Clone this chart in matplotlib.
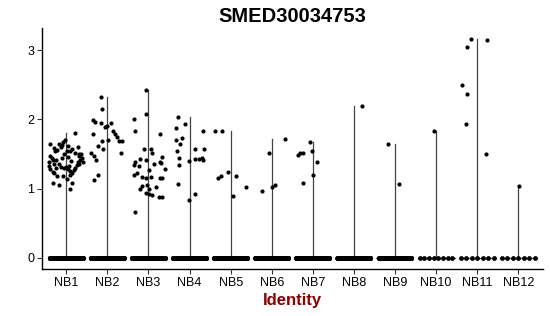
import matplotlib
matplotlib.use("Agg")
import matplotlib.pyplot as plt
import numpy as np

plt.rcParams["font.family"] = ["Liberation Sans", "DejaVu Sans"]

# cluster names
groups = ["NB1", "NB2", "NB3", "NB4", "NB5", "NB6",
          "NB7", "NB8", "NB9", "NB10", "NB11", "NB12"]

# cells with zero expression in each cluster (rough guess from band density)
zero_counts = [400, 300, 350, 400, 350, 250, 300, 300, 200, 8, 7, 7]

# non-zero cells: (expression, jitter offset)
nb1 = [(1.65, -0.39), (1.59, -0.31), (1.56, -0.23), (1.65, -0.17), (1.68, -0.08),
       (1.63, -0.10), (1.54, 0.02), (1.54, 0.10), (1.58, 0.14), (1.80, 0.22),
       (1.50, 0.32), (1.47, 0.30), (1.47, -0.40), (1.39, -0.41), (1.33, -0.42),
       (1.45, -0.35), (1.42, -0.33), (1.35, -0.30), (1.24, -0.33), (1.22, -0.30),
       (1.19, -0.22), (1.30, -0.24), (1.36, -0.18), (1.32, -0.12), (1.30, -0.06),
       (1.31, 0.00), (1.28, 0.04), (1.33, 0.07), (1.25, 0.10), (1.20, 0.08),
       (1.22, 0.15), (1.27, 0.18), (1.30, 0.22), (1.34, 0.25), (1.38, 0.28),
       (1.42, 0.33), (1.45, 0.38), (1.38, 0.40), (1.50, 0.36), (1.08, -0.32),
       (1.05, -0.19), (1.14, 0.01), (1.08, 0.13), (0.99, 0.10), (1.45, -0.10),
       (1.50, -0.05), (1.40, 0.12), (1.55, -0.28), (1.60, -0.12), (1.52, 0.20),
       (1.70, -0.03), (1.62, 0.05), (1.46, 0.05), (1.35, 0.30), (1.28, -0.40),
       (1.18, -0.08), (1.42, -0.25), (1.60, 0.28)]
nb2 = [(2.32, -0.15), (2.15, -0.13), (1.99, -0.35), (1.96, -0.31), (1.95, -0.15),
       (1.95, 0.08), (1.89, -0.06), (1.91, 0.00), (1.79, -0.35), (1.83, 0.14),
       (1.79, 0.18), (1.75, 0.23), (1.71, 0.02), (1.69, -0.12), (1.69, 0.28),
       (1.69, 0.36), (1.61, -0.23), (1.58, -0.10), (1.52, 0.34), (1.51, -0.39),
       (1.47, -0.33), (1.42, -0.28), (1.20, -0.23), (1.12, -0.32)]
nb3 = [(2.43, -0.06), (2.08, -0.06), (2.00, -0.36), (1.83, -0.34), (1.79, 0.29),
       (1.57, -0.10), (1.58, 0.07), (1.52, 0.09), (1.46, 0.33), (1.39, -0.32),
       (1.43, -0.20), (1.41, -0.06), (1.39, 0.27), (1.37, 0.31), (1.34, -0.36),
       (1.33, -0.24), (1.35, 0.13), (1.27, 0.02), (1.28, 0.40), (1.20, -0.36),
       (1.22, -0.28), (1.17, -0.15), (1.15, -0.07), (1.17, 0.07), (1.16, 0.29),
       (1.15, 0.33), (1.04, -0.17), (1.06, -0.03), (1.03, 0.18), (0.99, -0.20),
       (1.00, 0.01), (0.94, -0.06), (0.93, 0.02), (0.91, 0.09), (0.88, 0.25),
       (0.88, 0.33), (0.66, -0.33)]
nb4 = [(2.03, -0.29), (1.93, -0.11), (1.88, -0.32), (1.83, 0.33), (1.73, -0.18),
       (1.70, -0.34), (1.65, -0.23), (1.55, -0.31), (1.57, 0.12), (1.58, 0.36),
       (1.44, -0.25), (1.43, 0.13), (1.43, 0.23), (1.44, 0.31), (1.41, 0.32),
       (1.40, -0.01), (1.34, -0.25), (1.07, -0.29), (0.92, 0.13), (0.83, -0.01)]
nb5 = [(1.83, -0.37), (1.84, -0.21), (1.16, -0.31), (1.19, -0.23), (1.24, -0.07),
       (1.19, 0.14), (0.90, 0.05), (1.02, 0.38)]
nb6 = [(0.97, -0.24), (1.51, -0.07), (1.03, 0.00), (1.06, 0.07), (1.72, 0.32)]
nb7 = [(1.48, -0.37), (1.51, -0.32), (1.52, -0.24), (1.67, -0.07), (1.55, -0.03),
       (1.39, 0.09), (1.20, 0.00), (1.08, -0.25)]
nb8 = [(2.20, 0.19)]
nb9 = [(1.65, -0.18), (1.07, 0.09)]
nb10 = [(1.84, -0.04)]
nb11 = [(3.16, -0.15), (3.14, 0.25), (3.04, -0.25), (2.50, -0.37), (2.36, -0.25),
        (1.93, -0.27), (1.50, 0.22)]
nb12 = [(1.04, 0.03)]

nonzero = [nb1, nb2, nb3, nb4, nb5, nb6, nb7, nb8, nb9, nb10, nb11, nb12]

fig = plt.figure(figsize=(5.5, 3.16), dpi=100)
ax = fig.add_axes([0.0758, 0.149, 0.9112, 0.762])

ymax = max(v for pts in nonzero for v, _ in pts)

for i, pts in enumerate(nonzero):
    x = i + 1
    top = max(v for v, _ in pts)
    # violin collapses to a line from 0 to the maximum
    ax.plot([x, x], [0, top], color="#444444", lw=0.9, zorder=1)
    ax.plot([x - 0.45, x + 0.45], [0, 0], color="#555555", lw=0.9, zorder=1)
    vals = np.array([v for v, _ in pts])
    offs = np.array([o for _, o in pts])
    ax.scatter(x + offs, vals, s=9, color="black", lw=0, zorder=3)
    zx = x + np.linspace(-0.4, 0.4, zero_counts[i])
    ax.scatter(zx, np.zeros(len(zx)), s=12, color="black", lw=0, zorder=3)

ax.set_xlim(0.4, len(groups) + 0.6)
ax.set_ylim(-0.05 * ymax, 1.05 * ymax)
ax.set_xticks(range(1, len(groups) + 1))
ax.set_xticklabels(groups, fontsize=9)
ax.set_yticks([0, 1, 2, 3])
ax.set_yticklabels(["0", "1", "2", "3"], fontsize=9)
ax.tick_params(length=3.5, width=0.8, color="#333333", pad=2)
for s in ["top", "right"]:
    ax.spines[s].set_visible(False)
for s in ["left", "bottom"]:
    ax.spines[s].set_linewidth(1.0)

ax.set_xlabel("Identity", fontsize=12, fontweight="bold", color="#8B0000", labelpad=3)
fig.suptitle("SMED30034753", fontsize=14.5, fontweight="bold", x=0.531, y=0.977)

fig.savefig("out.png", dpi=100)
